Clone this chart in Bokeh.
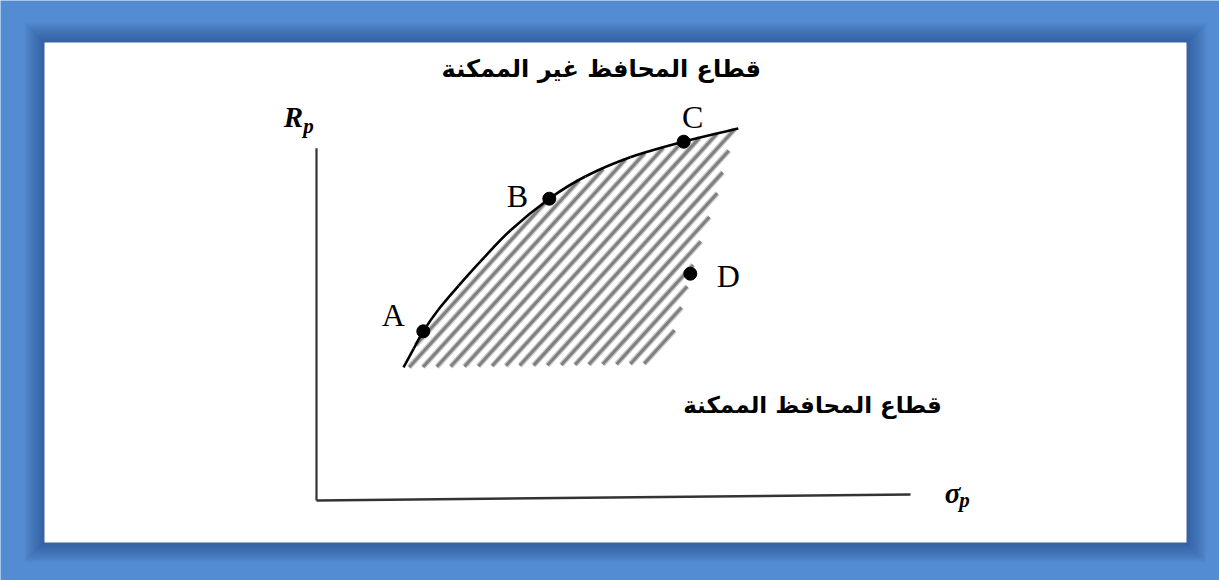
import numpy as np
from bokeh.plotting import figure
from bokeh.models import Range1d
from bokeh.core.properties import value
from bokeh.embed import file_html
from bokeh.resources import INLINE

# ---- data (sigma_p = risk, R_p = return) ----
frontier_sigma = [1.45, 1.62, 1.78, 2.03, 2.37, 2.73, 3.23, 3.88, 4.48, 5.23, 6.12, 7.03]
frontier_R = [2.22, 2.53, 2.82, 3.18, 3.58, 3.98, 4.50, 5.03, 5.40, 5.72, 5.98, 6.20]

# right-hand edge of the feasible set, from the top of the frontier downwards
edge_sigma = [6.85, 6.68, 6.53, 6.37, 6.23, 6.12, 5.95, 5.73, 5.52]
edge_R = [5.78, 5.12, 4.67, 4.22, 3.78, 3.33, 2.78, 2.45, 2.28]

point_names = ["A", "B", "C", "D"]
point_sigma = [1.78, 3.88, 6.12, 6.23]
point_R = [2.82, 5.03, 5.98, 3.78]

axis_x_sigma = [0.0, 9.9]
axis_x_R = [0.0, 0.1]
axis_y_sigma = [0.0, 0.0]
axis_y_R = [0.0, 5.87]

title_infeasible = "قطاع المحافظ غير  الممكنة"
title_feasible = "قطاع المحافظ الممكنة"

# ---- layout ----
W, H = 1219, 580
PX = 60.0                    # pixels per unit on both axes
ORIGIN_X, ORIGIN_Y = 316, 500


def sx(px):
    return (px - ORIGIN_X) / PX


def sy(py):
    return (ORIGIN_Y - py) / PX


BLUE = "#548CD3"

p = figure(width=W, height=H,
           x_range=Range1d(sx(0), sx(W)), y_range=Range1d(sy(H), sy(0)),
           output_backend="svg", toolbar_location=None, min_border=0,
           x_axis_location=None, y_axis_location=None)
p.grid.visible = False
p.outline_line_color = None
p.background_fill_color = BLUE
p.border_fill_color = BLUE

# soft shadow around the white card
PANEL = (44, 1186, 42, 542)   # left, right, top, bottom in pixels
for i in range(20, 0, -1):
    p.quad(left=sx(PANEL[0] - i), right=sx(PANEL[1] + i),
           top=sy(PANEL[2] - i), bottom=sy(PANEL[3] + i),
           fill_color="#0d1f3c", fill_alpha=0.017, line_color=None)
p.quad(left=sx(PANEL[0]), right=sx(PANEL[1]), top=sy(PANEL[2]), bottom=sy(PANEL[3]),
       fill_color="white", line_color=None)

# feasible region: diagonal stripes (R = k*sigma + c) clipped to its outline
region_sigma = np.array(frontier_sigma + edge_sigma)
region_R = np.array(frontier_R + edge_R)
STRIPE_SLOPE = 1.1
STRIPE_STEP = 0.25
offsets = region_R - STRIPE_SLOPE * region_sigma
n = len(region_sigma)
stripe_xs, stripe_ys = [], []
for c in np.arange(offsets.min() + STRIPE_STEP / 2, offsets.max(), STRIPE_STEP):
    hits = []
    for i in range(n):
        s0, r0 = region_sigma[i], region_R[i]
        s1, r1 = region_sigma[(i + 1) % n], region_R[(i + 1) % n]
        f0 = r0 - STRIPE_SLOPE * s0 - c
        f1 = r1 - STRIPE_SLOPE * s1 - c
        if (f0 > 0) != (f1 > 0):
            t = f0 / (f0 - f1)
            hits.append(s0 + t * (s1 - s0))
    hits.sort()
    for a, b in zip(hits[0::2], hits[1::2]):
        stripe_xs.append([a, b])
        stripe_ys.append([STRIPE_SLOPE * a + c, STRIPE_SLOPE * b + c])
p.multi_line(stripe_xs, stripe_ys, line_color="#cccccc", line_width=5.5, line_cap="butt")
p.multi_line(stripe_xs, stripe_ys, line_color="#808080", line_width=3, line_cap="butt")

# efficient frontier, drawn as a smooth Catmull-Rom curve through the points
fs, fr = np.array(frontier_sigma), np.array(frontier_R)
ps = np.concatenate([[2 * fs[0] - fs[1]], fs, [2 * fs[-1] - fs[-2]]])
pr = np.concatenate([[2 * fr[0] - fr[1]], fr, [2 * fr[-1] - fr[-2]]])
x0, y0 = ps[1:-2], pr[1:-2]
x1, y1 = ps[2:-1], pr[2:-1]
cx0 = x0 + (ps[2:-1] - ps[:-3]) / 6
cy0 = y0 + (pr[2:-1] - pr[:-3]) / 6
cx1 = x1 - (ps[3:] - ps[1:-2]) / 6
cy1 = y1 - (pr[3:] - pr[1:-2]) / 6
p.bezier(x0=x0, y0=y0, x1=x1, y1=y1, cx0=cx0, cy0=cy0, cx1=cx1, cy1=cy1,
         line_width=2.6, line_color="black")

# axes
p.line(axis_y_sigma, axis_y_R, line_width=2.2, line_color="#333333")
p.line(axis_x_sigma, axis_x_R, line_width=2.6, line_color="#333333")

# portfolios
p.scatter(point_sigma, point_R, size=13, color="black")
p.text(x=point_sigma, y=point_R, text=point_names,
       x_offset=[-30, -32, 9, 38], y_offset=[-16, -3, -25, 2],
       text_font=value("Liberation Serif"), text_font_size="32px",
       text_align="center", text_baseline="middle", text_color="black")

# axis titles
serif = value("Liberation Serif")
p.text(x=[axis_y_sigma[1]], y=[axis_y_R[1]], text=["R"], x_offset=[-23], y_offset=[-31],
       text_font=serif, text_font_size="29px", text_font_style="bold italic",
       text_align="center", text_baseline="middle", text_color="black")
p.text(x=[axis_y_sigma[1]], y=[axis_y_R[1]], text=["p"], x_offset=[-8], y_offset=[-22],
       text_font=serif, text_font_size="21px", text_font_style="bold italic",
       text_align="center", text_baseline="middle", text_color="black")
p.text(x=[axis_x_sigma[1]], y=[axis_x_R[1]], text=["σ"], x_offset=[42], y_offset=[-2],
       text_font=serif, text_font_size="29px", text_font_style="bold italic",
       text_align="center", text_baseline="middle", text_color="black")
p.text(x=[axis_x_sigma[1]], y=[axis_x_R[1]], text=["p"], x_offset=[54], y_offset=[5],
       text_font=serif, text_font_size="21px", text_font_style="bold italic",
       text_align="center", text_baseline="middle", text_color="black")

# region titles
arabic = value("DejaVu Sans")
p.text(x=[sx(605)], y=[sy(68)], text=[title_infeasible],
       text_font=arabic, text_font_size="24px", text_font_style="bold",
       text_align="center", text_baseline="middle", text_color="black")
p.text(x=[sx(812)], y=[sy(404)], text=[title_feasible],
       text_font=arabic, text_font_size="23px", text_font_style="bold",
       text_align="center", text_baseline="middle", text_color="black")

open("out.html", "w").write(file_html(p, INLINE))
